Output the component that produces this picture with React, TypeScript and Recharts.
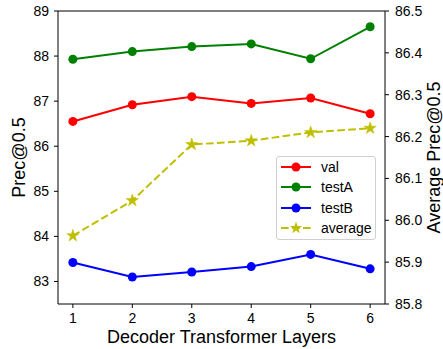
import { ComposedChart, Line, XAxis, YAxis, Legend, ReferenceLine } from 'recharts';

const layers = [1, 2, 3, 4, 5, 6];
const val = [86.55, 86.92, 87.1, 86.95, 87.07, 86.72];
const testA = [87.93, 88.1, 88.21, 88.27, 87.94, 88.65];
const testB = [83.42, 83.1, 83.21, 83.33, 83.6, 83.28];
const average = [85.963, 86.047, 86.181, 86.19, 86.21, 86.22];

const leftTicks = [83, 84, 85, 86, 87, 88, 89];
const rightTicks = [85.8, 85.9, 86.0, 86.1, 86.2, 86.3, 86.4, 86.5];

const data = layers.map((x, i) => ({
    x,
    val: val[i],
    testA: testA[i],
    testB: testB[i],
    average: average[i],
}));

const font = '"Liberation Sans", Arial, sans-serif';

const starPoints = (cx, cy, R) => {
    const pts = [];
    for (let i = 0; i < 10; i++) {
        const r = i % 2 === 0 ? R : R * 0.382;
        const a = (-90 + i * 36) * Math.PI / 180;
        pts.push(`${cx + r * Math.cos(a)},${cy + r * Math.sin(a)}`);
    }
    return pts.join(' ');
};

const Star = (props) => {
    const { cx, cy } = props;
    if (cx == null || cy == null) return null;
    return <polygon points={starPoints(cx, cy, 6.5)} fill="#bfbf00" stroke="#bfbf00" strokeWidth={0.5} />;
};

const legendItems = [
    { name: 'val', color: '#ff0000', star: false },
    { name: 'testA', color: '#008000', star: false },
    { name: 'testB', color: '#0000ff', star: false },
    { name: 'average', color: '#bfbf00', star: true },
];

const LegendBox = () => (
    <div style={{
        border: '1px solid #d0d0d0', borderRadius: 3, background: 'rgba(255,255,255,0.8)',
        padding: '0 0 1px 4px', width: 94, fontFamily: font, fontSize: 14, color: '#000',
    }}>
        {legendItems.map(item => (
            <div key={item.name} style={{ height: 20.3, display: 'flex', alignItems: 'center' }}>
                <svg width={30} height={16} style={{ display: 'block' }}>
                    <line x1={0} y1={8} x2={30} y2={8} stroke={item.color} strokeWidth={2}
                        strokeDasharray={item.star ? '7.7 3.3' : undefined} />
                    {item.star
                        ? <polygon points={starPoints(15, 8, 6.5)} fill={item.color} />
                        : <circle cx={15} cy={8} r={4.5} fill={item.color} />}
                </svg>
                <span style={{ marginLeft: 10 }}>{item.name}</span>
            </div>
        ))}
    </div>
);

export default function App() {
    const tick = { fill: '#000', fontSize: 14, fontFamily: font };
    const labelStyle = { textAnchor: 'middle', fill: '#000', fontSize: 18, fontFamily: font };
    return (
        <div style={{ position: 'absolute', left: 0, top: 0, background: '#fff' }}>
            <ComposedChart width={443} height={349} data={data} margin={{ top: 11, right: 0, bottom: 0, left: 0 }}>
                <XAxis dataKey="x" type="number" domain={[0.75, 6.25]} ticks={layers}
                    height={45} tick={tick} tickSize={4} tickMargin={5}
                    axisLine={{ stroke: '#000' }} tickLine={{ stroke: '#000' }}
                    label={{ value: 'Decoder Transformer Layers', position: 'insideBottom', offset: 6, style: labelStyle }} />
                <YAxis yAxisId="left" domain={[82.5, 89]} ticks={leftTicks} width={58}
                    tick={tick} tickSize={4} tickMargin={5}
                    axisLine={{ stroke: '#000' }} tickLine={{ stroke: '#000' }}
                    label={{ value: 'Prec@0.5', angle: -90, position: 'insideLeft', offset: 19, style: labelStyle }} />
                <YAxis yAxisId="right" orientation="right" domain={[85.8, 86.5]} ticks={rightTicks} width={58}
                    tick={tick} tickSize={4} tickMargin={6} tickFormatter={v => v.toFixed(1)}
                    axisLine={{ stroke: '#000' }} tickLine={{ stroke: '#000' }}
                    label={{ value: 'Average Prec@0.5', angle: -90, position: 'insideRight', offset: 9, style: labelStyle }} />
                <ReferenceLine yAxisId="left" y={89} stroke="#000" />
                <Line yAxisId="left" dataKey="val" stroke="#ff0000" strokeWidth={2}
                    dot={{ r: 4.5, fill: '#ff0000', stroke: '#ff0000', strokeWidth: 0 }} isAnimationActive={false} />
                <Line yAxisId="left" dataKey="testA" stroke="#008000" strokeWidth={2}
                    dot={{ r: 4.5, fill: '#008000', stroke: '#008000', strokeWidth: 0 }} isAnimationActive={false} />
                <Line yAxisId="left" dataKey="testB" stroke="#0000ff" strokeWidth={2}
                    dot={{ r: 4.5, fill: '#0000ff', stroke: '#0000ff', strokeWidth: 0 }} isAnimationActive={false} />
                <Line yAxisId="right" dataKey="average" stroke="#bfbf00" strokeWidth={2} strokeDasharray="7.7 3.3"
                    dot={<Star />} isAnimationActive={false} />
                <Legend layout="vertical" align="center" verticalAlign="middle" content={<LegendBox />}
                    wrapperStyle={{ left: 276, top: 156, width: 101, margin: 0 }} />
            </ComposedChart>
        </div>
    );
}
